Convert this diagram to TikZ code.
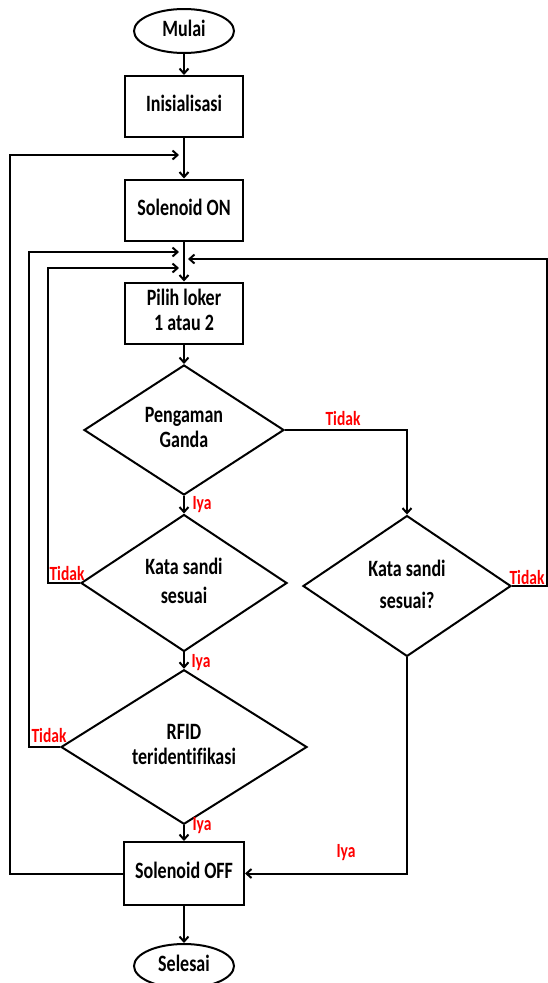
\documentclass[tikz,border=0pt]{standalone}
\usepackage{fontspec}
\setmainfont{Carlito}[Ligatures=NoCommon]
\usepackage{graphicx}
\usetikzlibrary{shapes.geometric,arrows.meta}
\newcommand{\mt}[2]{\scalebox{1}[1.3]{\fontsize{18}{#1}\selectfont\bfseries\begin{tabular}{@{}c@{}}#2\end{tabular}}}
\newcommand{\rl}[1]{\scalebox{1}[1.3]{\fontsize{15.5}{18}\selectfont\bfseries\color{red}#1}}
\begin{document}
\begin{tikzpicture}[x=1pt,y=-1pt,line width=2pt,
  arr/.style={-{Straight Barb[length=5pt,width=9pt]}},
  term/.style={draw,ellipse,minimum width=100,minimum height=44,inner sep=0},
  procbox/.style={draw,rectangle,minimum width=118,minimum height=61,inner sep=0},
  decis/.style={draw,diamond,inner sep=0},
  lab/.style={inner sep=0}]
\useasboundingbox (0,0) rectangle (548,983);
\node[term] (mulai) at (184,31) {\mt{20}{Mulai}};
\node[procbox] (init) at (184,106.5) {\mt{20}{Inisialisasi}};
\node[procbox] (son) at (184,210) {\mt{20}{Solenoid ON}};
\node[procbox] (pilih) at (184,313) {\mt{19.5}{Pilih loker\\1 atau 2}};
\node[decis,minimum width=200,minimum height=130] (d1) at (184,430) {\mt{19.5}{Pengaman\\Ganda}};
\node[decis,minimum width=206,minimum height=130] (d2) at (184,583) {\mt{23}{Kata sandi\\sesuai}};
\node[decis,minimum width=246,minimum height=130] (d3) at (184,747) {\mt{19.5}{RFID\\teridentifikasi}};
\node[decis,minimum width=208,minimum height=128] (d4) at (407,586) {\mt{24.5}{Kata sandi\\sesuai?}};
\node[procbox,minimum width=120,minimum height=63] (soff) at (184,873.5) {\mt{20}{Solenoid OFF}};
\node[term] (selesai) at (184,966) {\mt{20}{Selesai}};
% coordinates
\coordinate (j1) at (179,155);
\coordinate (j2) at (179,252);
\coordinate (j3) at (179,268);
\coordinate (j4) at (188,259);
\coordinate (xa) at (10,0);
\coordinate (xb) at (29,0);
\coordinate (xc) at (48,0);
\coordinate (xr) at (546.5,0);
% main column
\draw[arr] (mulai) -- (init);
\draw[arr] (init) -- (son);
\draw[arr] (son) -- (pilih);
\draw[arr] (pilih) -- (d1);
\draw[arr] (d1) -- (d2);
\draw[arr] (d2) -- (d3);
\draw[arr] (d3) -- (soff);
\draw[arr] (soff) -- (selesai);
% loops
\draw[arr] (soff.west) -- (soff.west -| xa) |- (j1);
\draw[arr] (d3.west) -- (d3.west -| xb) |- (j2);
\draw[arr] (d2.west) -- (d2.west -| xc) |- (j3);
\draw[arr] (d4.east) -- (d4.east -| xr) |- (j4);
\draw[arr] (d1.east) -| (d4.north);
\draw[arr] (d4.south) |- (soff.east);
% labels
\node[lab] (ya1) at (202,505) {\rl{Iya}};
\node[lab] (ya2) at (201,663) {\rl{Iya}};
\node[lab] (ya3) at (202,826) {\rl{Iya}};
\node[lab] (ya4) at (346,853) {\rl{Iya}};
\node[lab] (td1) at (343,418) {\rl{Tidak}};
\node[lab] (td2) at (527,577) {\rl{Tidak}};
\node[lab] (td3) at (67,573) {\rl{Tidak}};
\node[lab] (td4) at (49,735) {\rl{Tidak}};
\end{tikzpicture}
\end{document}
